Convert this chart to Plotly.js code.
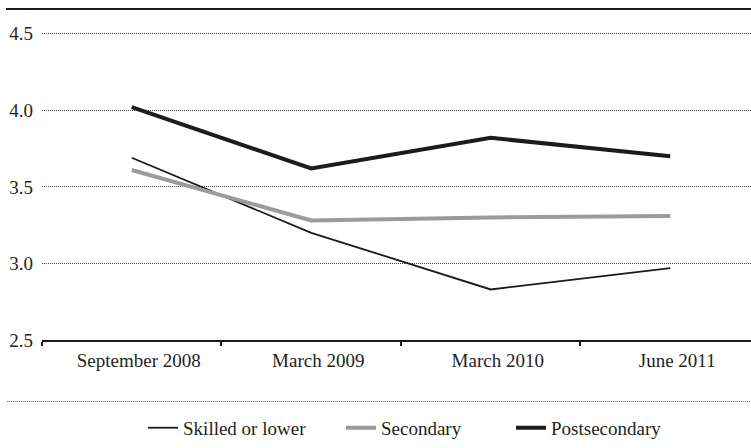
<!DOCTYPE html>
<html>
<head>
<meta charset="utf-8">
<script src="https://cdn.plot.ly/plotly-3.0.1.min.js"></script>
<style>html,body{margin:0;padding:0;background:#fff;}#chart{width:751px;height:448px;}</style>
</head>
<body>
<div id="chart"></div>
<script>
const categories = ["September 2008", "March 2009", "March 2010", "June 2011"];
const skilledOrLower = [3.69, 3.20, 2.83, 2.97];
const secondary = [3.61, 3.28, 3.30, 3.31];
const postsecondary = [4.02, 3.62, 3.82, 3.70];
const yTicks = [2.5, 3.0, 3.5, 4.0, 4.5];
const yTickText = ["2.5", "3.0", "3.5", "4.0", "4.5"];

const fontFam = "Liberation Serif, Times New Roman, serif";
const txtColor = "#231f20";

const traces = [
  {x: categories, y: skilledOrLower, name: "Skilled or lower", type: "scatter", mode: "lines",
   line: {color: "#1a1a1a", width: 1.8}, legend: "legend"},
  {x: categories, y: secondary, name: "Secondary", type: "scatter", mode: "lines",
   line: {color: "#9b9b9b", width: 4}, legend: "legend2"},
  {x: categories, y: postsecondary, name: "Postsecondary", type: "scatter", mode: "lines",
   line: {color: "#1c1c1c", width: 4}, legend: "legend3"}
];

function legendAt(x) {
  return {orientation: "h", x: x, xanchor: "left", y: -0.2655, yanchor: "middle",
          font: {family: fontFam, size: 19, color: txtColor}, bgcolor: "rgba(0,0,0,0)",
          borderwidth: 0};
}

const layout = {
  width: 751, height: 448,
  margin: {l: 42, r: 0, t: 9, b: 108, pad: 0},
  paper_bgcolor: "#fff", plot_bgcolor: "#fff",
  font: {family: fontFam, size: 19, color: txtColor},
  showlegend: true,
  legend: legendAt(0.1425),
  legend2: legendAt(0.4217),
  legend3: legendAt(0.6615),
  xaxis: {type: "category", range: [-0.5, 3.45], tickson: "boundaries", ticks: "outside",
          ticklen: 4, tickwidth: 2, tickcolor: "#1a1a1a", showline: true, linecolor: "#1a1a1a",
          tickfont: {family: fontFam, size: 19, color: txtColor},
          linewidth: 2, showgrid: false, zeroline: false, ticklabelstandoff: 2,
          ticklabelshift: 7, fixedrange: true},
  yaxis: {range: [2.5, 4.6614], tickvals: yTicks, ticktext: yTickText, showgrid: true,
          tickfont: {family: fontFam, size: 19, color: txtColor},
          gridcolor: "#444", griddash: "1px,1px", gridwidth: 1, zeroline: false, showline: false,
          ticks: "", ticklabelstandoff: 8, fixedrange: true},
  shapes: [
    {type: "line", xref: "paper", yref: "paper", x0: -0.0508, x1: 1, y0: 1, y1: 1,
     line: {color: "#1a1a1a", width: 2}},
    {type: "line", xref: "paper", yref: "paper", x0: -0.049, x1: 1, y0: -0.1860, y1: -0.1860,
     line: {color: "#444", width: 1, dash: "1px,1px"}}
  ]
};

Plotly.newPlot("chart", traces, layout, {displayModeBar: false, staticPlot: true});
</script>
</body>
</html>
